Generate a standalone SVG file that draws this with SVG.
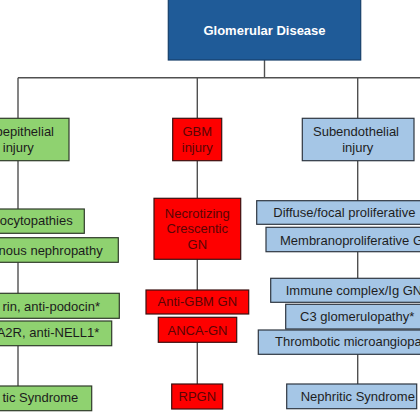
<svg xmlns="http://www.w3.org/2000/svg" width="420" height="420" viewBox="0 0 420 420">
<style>
text{font-family:"Liberation Sans",Arial,sans-serif;font-size:13px}
.c{text-anchor:middle}.e{text-anchor:end}.s{text-anchor:start}
.g rect{fill:#8fd270;stroke:#2f3a2a;stroke-width:1.2}
.g text{fill:#1c1c1c}
.r rect{fill:#fe0000;stroke:#3a1010;stroke-width:1.2}
.r text{fill:#5a0505}
.b rect{fill:#a5c6e6;stroke:#2e3640;stroke-width:1.2}
.b text{fill:#1e1e1e}
#conn line{stroke:#505050;stroke-width:1.4}
</style>
<rect width="420" height="420" fill="#ffffff"/>
<g id="conn">
<line x1="264.5" y1="60" x2="264.5" y2="77.7"/>
<line x1="18" y1="77.7" x2="420" y2="77.7"/>
<line x1="18" y1="77.7" x2="18" y2="118.3"/>
<line x1="197.3" y1="77.7" x2="197.3" y2="118.3"/>
<line x1="357.7" y1="77.7" x2="357.7" y2="118.3"/>
<line x1="18" y1="160.7" x2="18" y2="209"/>
<line x1="18" y1="262.3" x2="18" y2="293.3"/>
<line x1="18" y1="345.7" x2="18" y2="386"/>
<line x1="197.3" y1="160.7" x2="197.3" y2="198.3"/>
<line x1="197.3" y1="259.3" x2="197.3" y2="290"/>
<line x1="197.3" y1="342.3" x2="197.3" y2="384"/>
<line x1="357.7" y1="160.7" x2="357.7" y2="200.7"/>
<line x1="357.7" y1="251.7" x2="357.7" y2="278.3"/>
<line x1="357.7" y1="354.3" x2="357.7" y2="384"/>
</g>
<g id="glomerular-disease">
<rect x="168.3" y="-2" width="192.4" height="62" fill="#1f5b98" stroke="#163f6a" stroke-width="1.2"/>
<text x="264.5" y="34.7" class="c" fill="#ffffff" font-weight="bold">Glomerular Disease</text>
</g>
<g id="subepithelial" class="g">
<rect x="-34" y="118.3" width="103" height="42.4"/>
<text x="54" y="136" class="e">bepithelial</text>
<text x="18.3" y="152" class="c">injury</text>
</g>
<g id="podocytopathies" class="g">
<rect x="-40" y="209" width="124.3" height="24.3"/>
<text x="72.7" y="225.3" class="e">ocytopathies</text>
</g>
<g id="membranous" class="g">
<rect x="-40" y="237.7" width="158.3" height="24.6"/>
<text x="102.7" y="254.5" class="e">nous nephropathy</text>
</g>
<g id="anti-podocin" class="g">
<rect x="-40" y="293.3" width="159.3" height="25"/>
<text x="100" y="310.5" class="e">rin, anti-podocin*</text>
</g>
<g id="anti-nell1" class="g">
<rect x="-40" y="321" width="151.7" height="24.7"/>
<text x="99.3" y="337.2" class="e">A2R, anti-NELL1*</text>
</g>
<g id="nephrotic" class="g">
<rect x="-40" y="386" width="131.7" height="24.7"/>
<text x="78.3" y="402.2" class="e">tic Syndrome</text>
</g>
<g id="gbm" class="r">
<rect x="172.7" y="118.3" width="49" height="42.4"/>
<text x="197.3" y="136" class="c">GBM</text>
<text x="197.3" y="152" class="c">injury</text>
</g>
<g id="necrotizing" class="r">
<rect x="154" y="198.3" width="86.7" height="61"/>
<text x="197.3" y="217.5" class="c">Necrotizing</text>
<text x="197.3" y="233.3" class="c">Crescentic</text>
<text x="197.3" y="249" class="c">GN</text>
</g>
<g id="anti-gbm" class="r">
<rect x="146" y="290" width="102.7" height="24"/>
<text x="197.3" y="306.3" class="c">Anti-GBM GN</text>
</g>
<g id="anca" class="r">
<rect x="158.3" y="317.3" width="78.4" height="25"/>
<text x="197.5" y="334.5" class="c">ANCA-GN</text>
</g>
<g id="rpgn" class="r">
<rect x="171.7" y="384" width="51" height="25"/>
<text x="197.3" y="401" class="c">RPGN</text>
</g>
<g id="subendothelial" class="b">
<rect x="302.3" y="118.3" width="111.7" height="42.4"/>
<text x="356" y="136" class="c">Subendothelial</text>
<text x="357.7" y="152" class="c">injury</text>
</g>
<g id="diffuse" class="b">
<rect x="256.7" y="200.7" width="200" height="23.6"/>
<text x="273.3" y="217.3" class="s">Diffuse/focal proliferative</text>
</g>
<g id="membranoproliferative" class="b">
<rect x="266" y="227.3" width="200" height="24.4"/>
<text x="280" y="244.5" class="s">Membranoproliferative G</text>
</g>
<g id="immune-complex" class="b">
<rect x="270.7" y="278.3" width="200" height="24"/>
<text x="285.7" y="295.3" class="s">Immune complex/Ig GN</text>
</g>
<g id="c3" class="b">
<rect x="285.7" y="304.3" width="200" height="24.7"/>
<text x="357.2" y="321" class="c">C3 glomerulopathy*</text>
</g>
<g id="thrombotic" class="b">
<rect x="258.3" y="330" width="200" height="24.3"/>
<text x="275" y="346.3" class="s">Thrombotic microangiopa</text>
</g>
<g id="nephritic" class="b">
<rect x="286.7" y="384" width="130" height="24.7"/>
<text x="357.8" y="400.7" class="c">Nephritic Syndrome</text>
</g>
</svg>
